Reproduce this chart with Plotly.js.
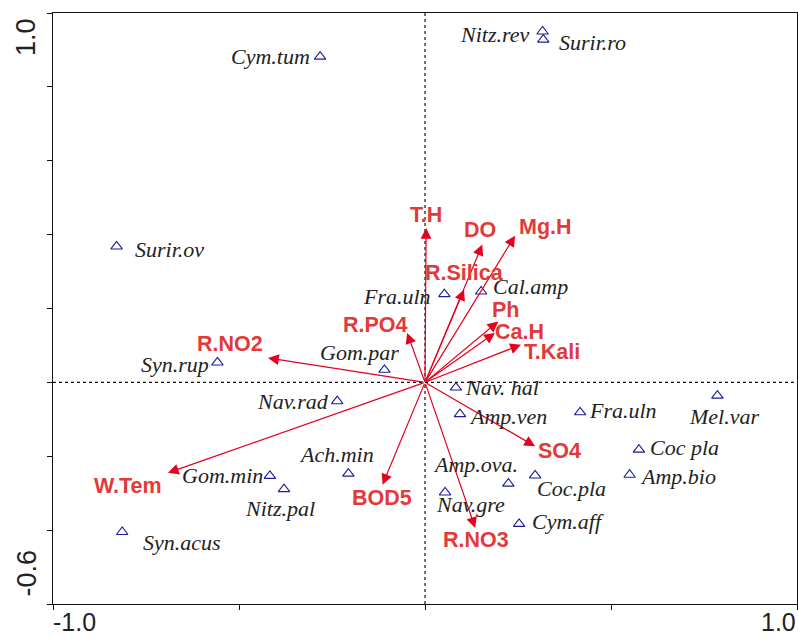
<!DOCTYPE html>
<html>
<head>
<meta charset="utf-8">
<script src="https://cdn.plot.ly/plotly-3.0.1.min.js"></script>
<style>html,body{margin:0;padding:0;background:#fff;}#chart{width:798px;height:639px;}</style>
</head>
<body>
<div id="chart"></div>
<script>
// ---- Data: species scores (axis 1, axis 2) ----
var speciesNames = ["Cym.tum","Nitz.rev","Surir.ro","Surir.ov","Fra.uln","Cal.amp","Gom.par","Syn.rup","Nav.rad","Ach.min","Gom.min","Nitz.pal","Syn.acus","Nav. hal","Amp.ven","Fra.uln","Mel.var","Coc pla","Amp.bio","Coc.pla","Amp.ova.","Nav.gre","Cym.aff"];
var speciesX = [-0.282, 0.316, 0.318, -0.829, 0.052, 0.151, -0.109, -0.558, -0.236, -0.206, -0.417, -0.379, -0.814, 0.083, 0.094, 0.417, 0.786, 0.575, 0.550, 0.296, 0.224, 0.054, 0.253];
var speciesY = [0.882, 0.950, 0.928, 0.368, 0.239, 0.246, 0.034, 0.054, -0.051, -0.247, -0.253, -0.289, -0.405, -0.014, -0.086, -0.081, -0.036, -0.182, -0.250, -0.252, -0.274, -0.298, -0.383];

// ---- Data: environmental variable arrows (tips) ----
var envNames = ["T.H","DO","Mg.H","R.Silica","Ph","Ca.H","T.Kali","R.PO4","R.NO2","W.Tem","BOD5","R.NO3","SO4"];
var envX = [0.003, 0.154, 0.242, 0.105, 0.197, 0.188, 0.258, -0.048, -0.422, -0.691, -0.114, 0.135, 0.296];
var envY = [0.418, 0.373, 0.397, 0.251, 0.165, 0.134, 0.102, 0.134, 0.066, -0.245, -0.277, -0.394, -0.173];

// ---- Axis tick labels ----
var xTickLabels = ["-1.0", "1.0"];
var yTickLabels = ["1.0", "-0.6"];

// ---- Label placement (style, not data): [xanchor, xshift px, yshift px] ----
var spLabelPos = [
  ["right",-8,0],["right",-12,-3],["left",14,-3],["left",16,-3],["right",-11,-2],["left",10,5],
  ["center",-25,17],["right",-6,-2],["right",-6,0],["center",-12,19],["right",-5,0],["center",-4,-19],
  ["left",19,-11],["left",7,0],["left",7,-2],["left",7,2],["center",7,-21],["left",9,2],
  ["left",8,-2],["left",0,-13],["center",-33,19],["center",25,-12],["left",11,2]
];
var envLabelPos = [
  [0,13],[-2,15],[30,9],[0,17],[7,11],[25,1],[31,-7],[-32,8],[-38,14],[-40,-13],[-1,-13],[1,-12],[24,-5]
];

var arrowColor = "#e4001e";
var envTextColor = "#e23a3a";
var speciesColor = "#1c1c9c";

var traces = [{
  x: speciesX, y: speciesY, type: "scatter", mode: "markers",
  marker: {symbol: "triangle-up-open", size: 10, color: speciesColor, line: {width: 1.1, color: speciesColor}},
  hoverinfo: "skip", showlegend: false
}];

var annotations = [];
// arrows
for (var i = 0; i < envNames.length; i++) {
  annotations.push({
    x: envX[i], y: envY[i], ax: 0, ay: 0, xref: "x", yref: "y", axref: "x", ayref: "y",
    text: "", showarrow: true, arrowhead: 2, arrowsize: 1.8, arrowwidth: 1.2, arrowcolor: arrowColor, standoff: 0
  });
}
// env labels
for (var i = 0; i < envNames.length; i++) {
  annotations.push({
    x: envX[i], y: envY[i], xref: "x", yref: "y", text: envNames[i], showarrow: false,
    xanchor: "center", yanchor: "middle", xshift: envLabelPos[i][0], yshift: envLabelPos[i][1],
    font: {family: "Liberation Sans, Arial, sans-serif", size: 21.5, color: envTextColor, weight: "bold"}
  });
}
// species labels
for (var i = 0; i < speciesNames.length; i++) {
  annotations.push({
    x: speciesX[i], y: speciesY[i], xref: "x", yref: "y", text: "<i>" + speciesNames[i] + "</i>", showarrow: false,
    xanchor: spLabelPos[i][0], yanchor: "middle", xshift: spLabelPos[i][1], yshift: spLabelPos[i][2],
    font: {family: "Liberation Serif, Times New Roman, serif", size: 22, color: "#222222"}
  });
}
// axis tick labels
annotations.push({x: -1, y: 0, xref: "x", yref: "paper", text: xTickLabels[0], showarrow: false, xanchor: "left", yanchor: "middle", yshift: -18, xshift: -2,
  font: {family: "Liberation Sans, Arial, sans-serif", size: 25, color: "#222"}});
annotations.push({x: 1, y: 0, xref: "x", yref: "paper", text: xTickLabels[1], showarrow: false, xanchor: "right", yanchor: "middle", yshift: -18, xshift: 1,
  font: {family: "Liberation Sans, Arial, sans-serif", size: 25, color: "#222"}});
annotations.push({x: 0, y: 1.0, xref: "paper", yref: "y", text: yTickLabels[0], showarrow: false, textangle: -90, xanchor: "center", yanchor: "top", xshift: -27, yshift: -3,
  font: {family: "Liberation Sans, Arial, sans-serif", size: 27, color: "#222"}});
annotations.push({x: 0, y: -0.6, xref: "paper", yref: "y", text: yTickLabels[1], showarrow: false, textangle: -90, xanchor: "center", yanchor: "bottom", xshift: -27, yshift: 5,
  font: {family: "Liberation Sans, Arial, sans-serif", size: 27, color: "#222"}});

var layout = {
  width: 798, height: 639,
  margin: {l: 53, r: 1, t: 13, b: 35, pad: 0},
  paper_bgcolor: "#fff", plot_bgcolor: "#fff",
  showlegend: false,
  xaxis: {range: [-1, 1], showgrid: false, zeroline: false, showline: true, mirror: true, linecolor: "#111", linewidth: 1.3,
    ticks: "outside", ticklen: 5, tickwidth: 1, tickcolor: "#111", dtick: 0.5, tick0: 0, showticklabels: false, fixedrange: true},
  yaxis: {range: [-0.6, 1.0], showgrid: false, zeroline: false, showline: true, mirror: true, linecolor: "#111", linewidth: 1.3,
    ticks: "outside", ticklen: 5, tickwidth: 1, tickcolor: "#111", dtick: 0.2, tick0: 0, showticklabels: false, fixedrange: true},
  shapes: [
    {type: "line", xref: "x", yref: "y", x0: 0, x1: 0, y0: -0.6, y1: 1.0, line: {color: "#111", width: 1.2, dash: "3px,3px"}, layer: "below"},
    {type: "line", xref: "x", yref: "y", x0: -1, x1: 1, y0: 0, y1: 0, line: {color: "#111", width: 1.2, dash: "3px,3px"}, layer: "below"}
  ],
  annotations: annotations
};

Plotly.newPlot("chart", traces, layout, {displayModeBar: false, staticPlot: true});
</script>
</body>
</html>
